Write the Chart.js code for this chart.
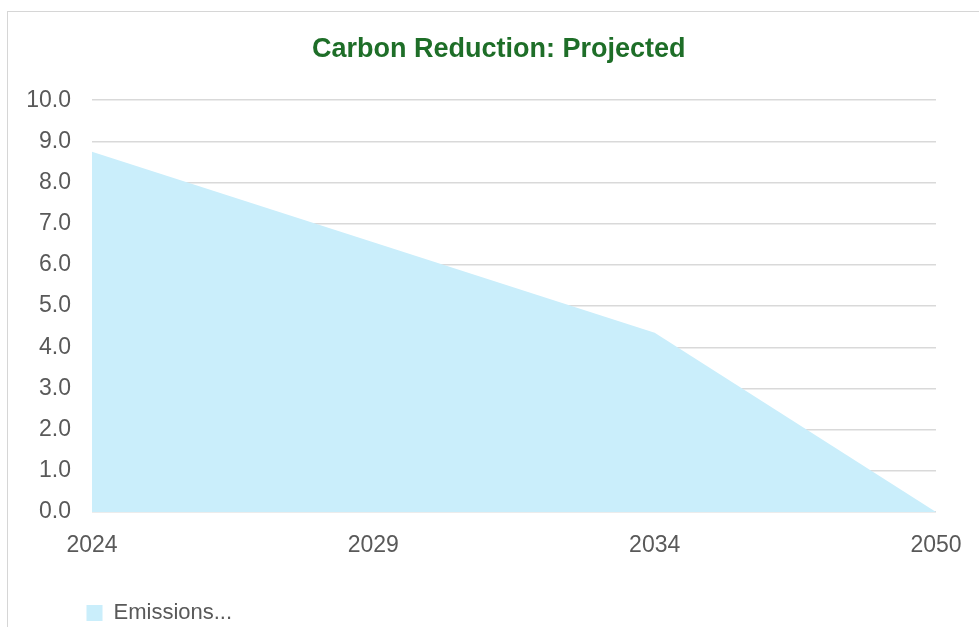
<!DOCTYPE html>
<html>
<head>
<meta charset="utf-8">
<script src="https://cdn.jsdelivr.net/npm/chart.js@4"></script>
<style>
  body { margin: 0; background: #fff; overflow: hidden; width: 979px; height: 627px; }
  #frame { position: absolute; left: 7px; top: 11px; width: 1100px; height: 800px; border: 1px solid #d6d6d6; }
  #wrap { position: absolute; left: 8px; top: 12px; width: 974px; height: 622px; }
</style>
</head>
<body>
<div id="frame"></div>
<div id="wrap"><canvas id="myChart"></canvas></div>
<script>
// chart data
const YEARS = ['2024', '2029', '2034', '2050']
const EMISSIONS = [8.75, 6.55, 4.35, 0.0]
const SERIES_NAME = 'Emissions...'
const CHART_TITLE = 'Carbon Reduction: Projected'

const GREY = '#595959'
const TICK_FONT = { family: 'Liberation Sans', size: 23 }

var ctx = document.getElementById('myChart').getContext('2d');
var chart = new Chart(ctx, {
  type: 'line',
  data: {
    labels: YEARS,
    datasets: [{
      label: SERIES_NAME,
      data: EMISSIONS,
      backgroundColor: '#caeefb',
      borderColor: '#caeefb',
      borderWidth: 0,
      pointRadius: 0,
      fill: 'origin',
      tension: 0
    }]
  },
  options: {
    responsive: true,
    maintainAspectRatio: false,
    animation: false,
    layout: { padding: { left: 53.5, right: 46, top: 0, bottom: 0 } },
    plugins: {
      title: {
        display: true,
        text: CHART_TITLE,
        color: '#1e6e28',
        font: { family: 'Liberation Sans', size: 27, weight: 'bold' },
        padding: { top: 21.5, bottom: 34.3 }
      },
      legend: {
        position: 'bottom',
        align: 'start',
        labels: {
          boxWidth: 16,
          boxHeight: 16,
          padding: 25,
          color: GREY,
          font: { family: 'Liberation Sans', size: 22 }
        }
      },
      tooltip: { enabled: false }
    },
    scales: {
      x: {
        offset: false,
        grid: { display: false, drawTicks: false },
        border: { display: false },
        ticks: {
          color: GREY,
          padding: 20,
          maxRotation: 0,
          font: TICK_FONT
        },
        afterFit: function (s) { s.height = 65 }
      },
      y: {
        min: 0,
        max: 10,
        grid: { color: '#d9d9d9', lineWidth: 1.5, drawTicks: false },
        border: { display: false },
        ticks: {
          stepSize: 1,
          color: GREY,
          // mirrored + far alignment so the labels can sit left of the axis box
          mirror: true,
          crossAlign: 'far',
          padding: -65.8,
          font: TICK_FONT,
          callback: function (v) { return v.toFixed(1) }
        },
        afterFit: function (s) { s.width = 30.5 }
      }
    }
  }
});
</script>
</body>
</html>
